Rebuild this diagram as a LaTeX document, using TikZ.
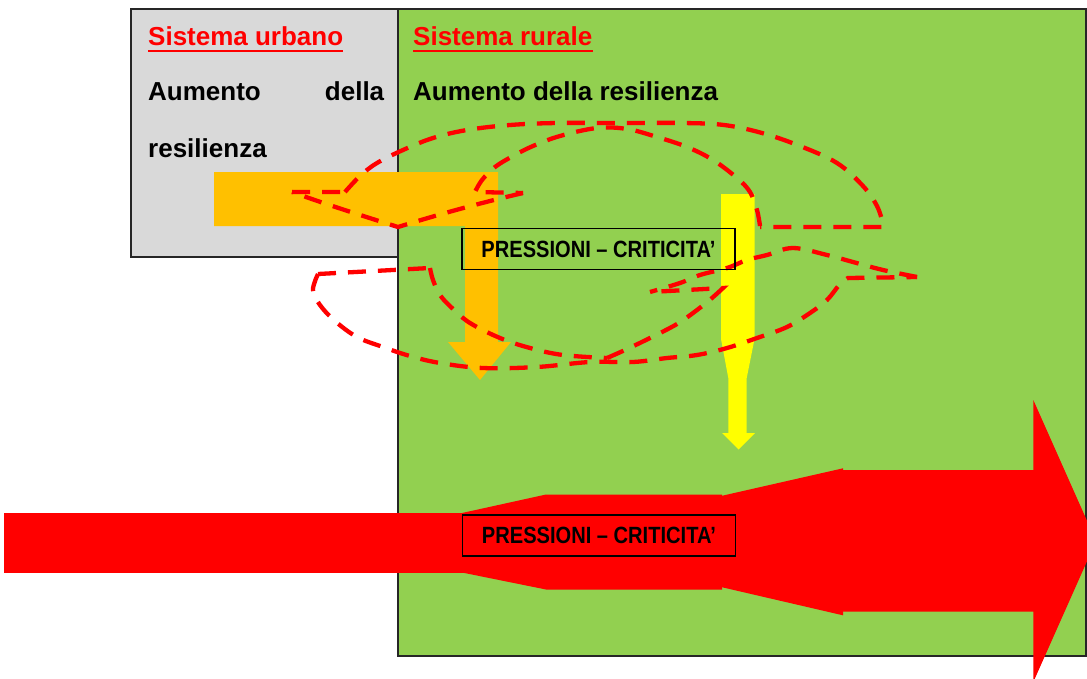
\documentclass[tikz,border=0pt]{standalone}
\usepackage{fontspec}
\setmainfont{Liberation Sans}
\newfontfamily\narrowfont[FakeStretch=0.855]{Liberation Sans}
\definecolor{urbangray}{HTML}{D9D9D9}
\definecolor{ruralgreen}{HTML}{92D050}
\definecolor{orangearrow}{HTML}{FFC000}
\definecolor{yellowarrow}{HTML}{FFFF00}
\definecolor{redarrow}{HTML}{FF0000}
\definecolor{borderdark}{HTML}{262626}
\begin{document}
\begin{tikzpicture}[x=1pt,y=-1pt,
  panel/.style={draw=borderdark, line width=1.6pt},
  paneltitle/.style={anchor=base west, inner sep=0pt, text=redarrow, font=\fontsize{26}{30}\selectfont\bfseries},
  paneltext/.style={anchor=base west, inner sep=0pt, font=\fontsize{26}{57}\selectfont\bfseries},
  dashflow/.style={draw=redarrow, line width=4.3pt, dash pattern=on 18pt off 12pt},
  pbox/.style={draw=black, line width=1.4pt, minimum width=273pt, minimum height=41pt, inner sep=0pt, font=\narrowfont\fontsize{23.5}{26}\selectfont\bfseries},
  titleline/.style={draw=redarrow, line width=2.2pt}
]
\useasboundingbox (0,0) rectangle (1087,678);
\clip (0,0) rectangle (1087,678);
% panels
\draw[panel, fill=urbangray] (131,9) rectangle (398,257);
\draw[panel, fill=ruralgreen] (398,9) rectangle (1086,656);
% orange arrow
\fill[orangearrow] (214,172) -- (498,172) -- (498,342) -- (511,342) -- (480,380)
  -- (448,342) -- (465,342) -- (465,226) -- (214,226) -- cycle;
% yellow arrow
\fill[yellowarrow] (721,194) -- (754.5,194) -- (754.5,339) -- (746.7,378) -- (746.7,433)
  -- (755,433) -- (738.5,449.5) -- (722,433) -- (728.3,433) -- (728.3,378) -- (721,339) -- cycle;
% red arrow
\fill[redarrow] (4,513) -- (463,513) -- (463,573) -- (4,573) -- cycle;
\fill[redarrow] (462,513) -- (546,494.5) -- (722,494.5) -- (722,589.5) -- (546,589.5) -- (462,572.5) -- cycle;
\fill[redarrow] (721,496) -- (843,468.3) -- (843,615.3) -- (721,587) -- cycle;
\fill[redarrow] (842,470) -- (1033.3,470) -- (1033.3,400) -- (1096,541) -- (1033.3,682)
  -- (1033.3,611.7) -- (842,611.7) -- cycle;
% upper dashed figure
\draw[dashflow] (292,192) -- (345,192) plot[smooth, tension=0.6] coordinates {(345,192) (360,176) (377,163) (403,150) (433,138) (467,130) (510,125) (557,123) (620,123) (683,123) (724,125) (762,133) (800,146) (837,163) (863,186) (877,206) (883,224)} -- (883,227) -- (760,227);
\draw[dashflow] plot[smooth, tension=0.6] coordinates {(760,226) (757,210) (750,192) (737,178) (713,160) (687,147) (657,137) (627,129) (597,128) (560,136) (533,146) (513,156) (495,167) (482,180) (475,192)} -- (523,193);
\draw[dashflow] (523,193) .. controls (480,203) and (440,214) .. (398,227) .. controls (360,215) and (325,204) .. (292,192);
% lower dashed figure
\draw[dashflow] (318,274) -- (430,268) plot[smooth, tension=0.6] coordinates {(430,268) (433,280) (440,295) (452,308) (470,323) (500,338) (530,348) (563,355) (607,358)};
\draw[dashflow] plot[smooth, tension=0.6] coordinates {(607,358) (625,350) (650,338) (677,324) (697,310) (712,298) (723,288)} -- (650,292);
\draw[dashflow] plot[smooth, tension=0.6] coordinates {(318,274) (313,290) (320,305) (335,321) (357,337) (383,347) (410,356) (440,363) (483,368) (537,367) (590,362) (633,362) (667,358) (697,355) (727,348) (757,338) (787,327) (810,313) (827,300) (840,284) (848,278)} -- (917,277);
\draw[dashflow] plot[smooth, tension=0.6] coordinates {(917,277) (883,270) (853,262) (827,255) (793,248) (767,255) (747,260) (727,268) (700,275) (680,283) (650,292)};
% pressure boxes
\node[pbox] (pup) at (598.5,249) {PRESSIONI – CRITICITA’};
\node[pbox] (pdown) at (599,535.5) {PRESSIONI – CRITICITA’};
% texts
\node[paneltitle] (su) at (148,45) {Sistema urbano};
\draw[titleline] ([yshift=-6pt]su.base west) -- ([yshift=-6pt]su.base east);
\node[paneltitle] (sr) at (413,45) {Sistema rurale};
\draw[titleline] ([yshift=-6pt]sr.base west) -- ([yshift=-6pt]sr.base east);
\node[paneltext, text width=236pt, align=justify] (ru) at (148,100) {Aumento della \mbox{resilienza}};
\node[paneltext] (rr) at (413,100) {Aumento della resilienza};
\end{tikzpicture}
\end{document}
